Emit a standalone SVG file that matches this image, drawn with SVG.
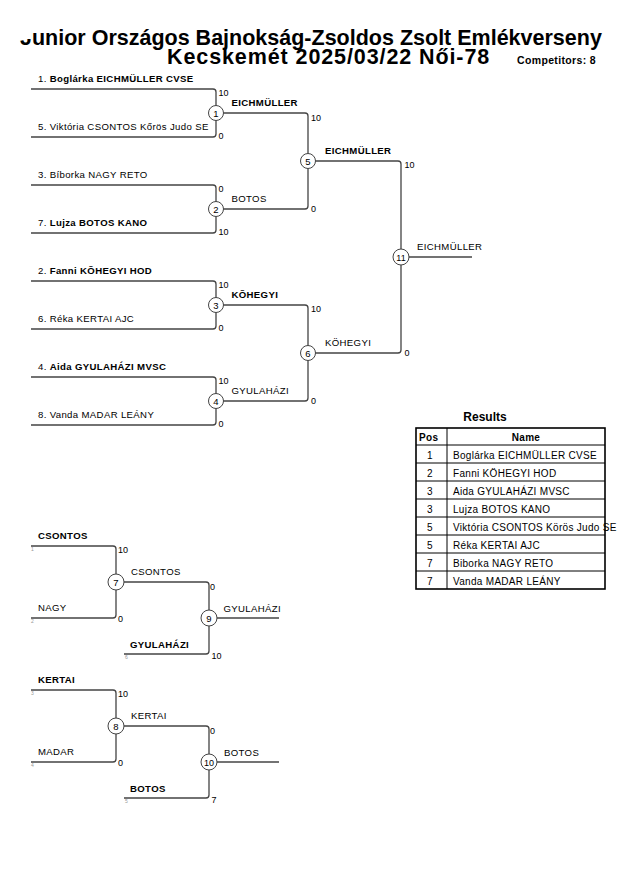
<svg xmlns="http://www.w3.org/2000/svg" width="630" height="891" viewBox="0 0 630 891">
<style>
text{font-family:"Liberation Sans",Arial,sans-serif;fill:#000}
.ln{fill:none;stroke:#444;stroke-width:1.3}
.c{fill:#fff;stroke:#444;stroke-width:1}
.nm{font-size:9.6px;letter-spacing:0.35px}
.b{font-weight:bold}
.sc{font-size:9px}
.cn{font-size:9.5px;text-anchor:middle}
.sd{font-size:5px;fill:#999}
.tt{font-size:21.5px;font-weight:bold}
.tb{font-size:10px;letter-spacing:0.3px}
.tl{fill:none;stroke:#000;stroke-width:1}
</style>
<rect width="630" height="891" fill="#fff"/>
<g id="title">
<text class="tt" x="20" y="45">Junior Országos Bajnokság-Zsoldos Zsolt Emlékverseny</text>
<rect x="17" y="25" width="14" height="14" fill="#fff"/>
<text class="tt" x="167" y="64" letter-spacing="0.9">Kecskemét 2025/03/22 Női-78</text>
<text class="b" x="517" y="64" font-size="10.5" letter-spacing="0.35">Competitors: 8</text>
</g>
<g id="connectors">
<path class="ln" d="M31,89 H213 Q216,89 216,92 V134 Q216,137 213,137 H31"/>
<path class="ln" d="M31,185 H213 Q216,185 216,188 V230 Q216,233 213,233 H31"/>
<path class="ln" d="M31,281 H213 Q216,281 216,284 V326 Q216,329 213,329 H31"/>
<path class="ln" d="M31,377 H213 Q216,377 216,380 V422 Q216,425 213,425 H31"/>
<path class="ln" d="M216,113 H305 Q308,113 308,116 V206 Q308,209 305,209 H216"/>
<path class="ln" d="M216,305 H305 Q308,305 308,308 V398 Q308,401 305,401 H216"/>
<path class="ln" d="M308,161 H398 Q401,161 401,164 V350 Q401,353 398,353 H308"/>
<path class="ln" d="M401,257 H472"/>
<path class="ln" d="M31,546 H113 Q116,546 116,549 V615 Q116,618 113,618 H31"/>
<path class="ln" d="M116,582 H206 Q209,582 209,585 V651 Q209,654 206,654 H124"/>
<path class="ln" d="M209,618 H279"/>
<path class="ln" d="M31,690 H113 Q116,690 116,693 V759 Q116,762 113,762 H31"/>
<path class="ln" d="M116,726 H206 Q209,726 209,729 V795 Q209,798 206,798 H124"/>
<path class="ln" d="M209,762 H279"/>
</g>
<g id="competitors">
<text class="nm" x="38" y="81.5">1. <tspan class="b">Boglárka EICHMÜLLER CVSE</tspan></text>
<text class="nm" x="38" y="129.5">5. Viktória CSONTOS Kőrös Judo SE</text>
<text class="nm" x="38" y="177.5">3. Bíborka NAGY RETO</text>
<text class="nm" x="38" y="225.5">7. <tspan class="b">Lujza BOTOS KANO</tspan></text>
<text class="nm" x="38" y="273.5">2. <tspan class="b">Fanni KÕHEGYI HOD</tspan></text>
<text class="nm" x="38" y="321.5">6. Réka KERTAI AJC</text>
<text class="nm" x="38" y="369.5">4. <tspan class="b">Aida GYULAHÁZI MVSC</tspan></text>
<text class="nm" x="38" y="417.5">8. Vanda MADAR LEÁNY</text>
</g>
<g id="scores">
<text class="sc" x="218.5" y="95.5">10</text>
<text class="sc" x="218.5" y="138.5">0</text>
<text class="sc" x="218.5" y="191.5">0</text>
<text class="sc" x="218.5" y="234.5">10</text>
<text class="sc" x="218.5" y="287.5">10</text>
<text class="sc" x="218.5" y="330.5">0</text>
<text class="sc" x="218.5" y="383.5">10</text>
<text class="sc" x="218.5" y="426.5">0</text>
<text class="sc" x="311" y="120.5">10</text>
<text class="sc" x="311" y="211.5">0</text>
<text class="sc" x="311" y="312">10</text>
<text class="sc" x="311" y="403.5">0</text>
<text class="sc" x="404.5" y="168">10</text>
<text class="sc" x="404.5" y="355.5">0</text>
<text class="sc" x="118" y="553">10</text>
<text class="sc" x="118" y="622">0</text>
<text class="sc" x="210" y="590">0</text>
<text class="sc" x="211.5" y="658.5">10</text>
<text class="sc" x="118" y="697">10</text>
<text class="sc" x="118" y="766">0</text>
<text class="sc" x="210" y="734">0</text>
<text class="sc" x="211.5" y="802.5">7</text>
</g>
<g id="round-labels">
<text class="nm b" x="231.5" y="105.5">EICHMÜLLER</text>
<text class="nm" x="231.5" y="201.5">BOTOS</text>
<text class="nm b" x="231.5" y="297.5">KÕHEGYI</text>
<text class="nm" x="231.5" y="393.5">GYULAHÁZI</text>
<text class="nm b" x="325" y="154">EICHMÜLLER</text>
<text class="nm" x="325" y="346">KÖHEGYI</text>
<text class="nm" x="417" y="250">EICHMÜLLER</text>
</g>
<g id="repechage">
<text class="nm b" x="38" y="538.5">CSONTOS</text>
<text class="sd" x="31" y="551">1</text>
<text class="nm" x="38" y="611">NAGY</text>
<text class="sd" x="31" y="623">2</text>
<text class="nm" x="131" y="574.5">CSONTOS</text>
<text class="nm b" x="130" y="647.5">GYULAHÁZI</text>
<text class="sd" x="125" y="659">6</text>
<text class="nm" x="223.5" y="611.5">GYULAHÁZI</text>
<text class="nm b" x="38" y="682.5">KERTAI</text>
<text class="sd" x="31" y="695">3</text>
<text class="nm" x="38" y="755">MADAR</text>
<text class="sd" x="31" y="767">4</text>
<text class="nm" x="131" y="718.5">KERTAI</text>
<text class="nm b" x="130" y="791.5">BOTOS</text>
<text class="sd" x="125" y="803">5</text>
<text class="nm" x="224" y="755.5">BOTOS</text>
</g>
<g id="m1"><circle class="c" cx="216" cy="113" r="7.5"/><text class="cn" x="216" y="116.5">1</text></g>
<g id="m2"><circle class="c" cx="216" cy="209" r="7.5"/><text class="cn" x="216" y="212.5">2</text></g>
<g id="m3"><circle class="c" cx="216" cy="305" r="7.5"/><text class="cn" x="216" y="308.5">3</text></g>
<g id="m4"><circle class="c" cx="216" cy="401" r="7.5"/><text class="cn" x="216" y="404.5">4</text></g>
<g id="m5"><circle class="c" cx="308" cy="161" r="7.5"/><text class="cn" x="308" y="164.5">5</text></g>
<g id="m6"><circle class="c" cx="308" cy="353" r="7.5"/><text class="cn" x="308" y="356.5">6</text></g>
<g id="m11"><circle class="c" cx="401" cy="257" r="8"/><text class="cn" x="401" y="260.5" style="font-size:9px">11</text></g>
<g id="m7"><circle class="c" cx="116" cy="582" r="8"/><text class="cn" x="116" y="585.5">7</text></g>
<g id="m9"><circle class="c" cx="209" cy="618" r="8"/><text class="cn" x="209" y="621.5">9</text></g>
<g id="m8"><circle class="c" cx="116" cy="726" r="8"/><text class="cn" x="116" y="729.5">8</text></g>
<g id="m10"><circle class="c" cx="209" cy="762" r="8"/><text class="cn" x="209" y="765.5" style="font-size:9px">10</text></g>
<g id="results">
<text class="b" x="485" y="421" font-size="12" text-anchor="middle">Results</text>
<text class="b tb" x="419" y="441">Pos</text>
<text class="b tb" x="526" y="441" text-anchor="middle">Name</text>
<g class="tb" text-anchor="middle">
<text x="430" y="458.5">1</text><text x="430" y="476.5">2</text><text x="430" y="494.5">3</text><text x="430" y="512.5">3</text>
<text x="430" y="530.5">5</text><text x="430" y="548.5">5</text><text x="430" y="566.5">7</text><text x="430" y="584.5">7</text>
</g>
<g class="tb">
<text x="453" y="458.5">Boglárka EICHMÜLLER CVSE</text>
<text x="453" y="476.5">Fanni KÖHEGYI HOD</text>
<text x="453" y="494.5">Aida GYULAHÁZI MVSC</text>
<text x="453" y="512.5">Lujza BOTOS KANO</text>
<text x="453" y="530.5">Viktória CSONTOS Körös Judo SE</text>
<text x="453" y="548.5">Réka KERTAI AJC</text>
<text x="453" y="566.5">Biborka NAGY RETO</text>
<text x="453" y="584.5">Vanda MADAR LEÁNY</text>
</g>
<path class="tl" d="M447,428 V589 M416,445 H605 M416,463 H605 M416,481 H605 M416,499 H605 M416,517 H605 M416,535 H605 M416,553 H605 M416,571 H605"/>
<rect x="416" y="428" width="189" height="161" fill="none" stroke="#000" stroke-width="1.6"/>
</g>
</svg>
